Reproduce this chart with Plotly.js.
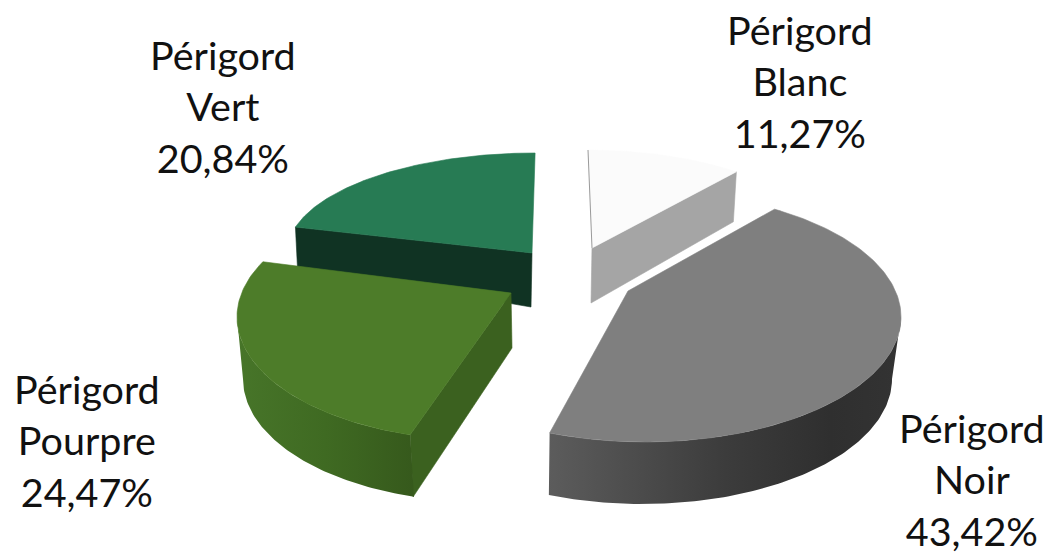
<!DOCTYPE html>
<html>
<head>
<meta charset="utf-8">
<script src="https://cdn.plot.ly/plotly-3.0.1.min.js"></script>
<style>html,body{margin:0;padding:0;background:#fff}#chart{width:1049px;height:554px}</style>
</head>
<body>
<div id="chart"></div>
<script>
// Data
var regions = ["Périgord", "Périgord", "Périgord", "Périgord"];
var subNames = ["Blanc", "Noir", "Pourpre", "Vert"];
var shares = [11.27, 43.42, 24.47, 20.84];
var shareLabels = ["11,27%", "43,42%", "24,47%", "20,84%"];

// Drawing view of each exploded slice (pixel-like axis units)
var view = [
  {ex:588, ey:248, rx:236, ry:98,  start:0,     stretch:0.96,  ax:592, ay:248,
   top:"#fbfbfb", label:[800,81],  cut:"#a5a5a5", cutDepth:[[-3,50],[-1,55]], outer:null},
  {ex:645, ey:317, rx:256, ry:125, start:30.4,  stretch:1.097, ax:628, ay:291,
   top:"#7f7f7f", label:[972,479], cut:null,
   outer:{from:90, dx:-3, dy:62, rx:250, grad:[[0,"#5c5c5c"],[0.5,"#3c3c3c"],[0.8,"#2f2f2f"],[1,"#333333"]]}},
  {ex:480, ey:317, rx:243, ry:123, start:196.7, stretch:1.135, ax:511, ay:293,
   top:"#4d7c29", label:[87,440],  cut:"#3b611f", cutDepth:[[3,62],[1,55]],
   outer:{to:270, dx:3, dy:62, rx:240, grad:[[0,"#477529"],[0.5,"#3f6a22"],[1,"#36591c"]]}},
  {ex:535, ey:253, rx:248, ry:100, start:285,   stretch:1.0,   ax:532, ay:253,
   top:"#277b54", label:[223,106], cut:"#103323", cutDepth:[[2,40],[-1,54]], outer:null}
];
var drawOrder = [3, 0, 1, 2];
// Which end of the arc the flat wall starts from, per slice (0 = first, 1 = last)
var cutEnd = [1, 0, 0, 0];

function rad(d){ return d * Math.PI / 180; }
function arc(ex, ey, rx, ry, a0, a1){
  var xs = [], ys = [], n = Math.max(2, Math.ceil(Math.abs(a1 - a0)));
  for (var i = 0; i <= n; i++){
    var t = a0 + (a1 - a0) * i / n;
    xs.push(ex + rx * Math.sin(rad(t)));
    ys.push(ey - ry * Math.cos(rad(t)));
  }
  return {x:xs, y:ys};
}

var total = shares.reduce(function(a,b){return a+b;}, 0);
var traces = [];
function poly(x, y, color, name, grad){
  var t = {type:"scatter", mode:"lines", x:x, y:y, fill:"toself", hoverinfo:"skip", name:name, showlegend:false};
  if (grad) { t.fillgradient = {type:"horizontal", colorscale:grad}; t.line = {width:0}; }
  else { t.fillcolor = color; t.line = {width:0.6, color:color}; }
  traces.push(t);
}

drawOrder.forEach(function(i){
  var v = view[i], name = regions[i] + " " + subNames[i];
  var span = shares[i] / total * 360 * v.stretch;
  var a0 = v.start, a1 = v.start + span;
  var top = arc(v.ex, v.ey, v.rx, v.ry, a0, a1);
  var first = [top.x[0], top.y[0]], last = [top.x[top.x.length-1], top.y[top.y.length-1]];

  // flat cut wall along the edge facing the viewer
  if (v.cut){
    var corner = cutEnd[i] ? last : first;
    var d = v.cutDepth;
    poly([corner[0], v.ax, v.ax + d[1][0], corner[0] + d[0][0], corner[0]],
         [corner[1], v.ay, v.ay + d[1][1], corner[1] + d[0][1], corner[1]], v.cut, name + " paroi");
  }
  // curved outer wall
  if (v.outer){
    var o = v.outer;
    var b0 = Math.max(a0, o.from === undefined ? a0 : o.from);
    var b1 = Math.min(a1, o.to === undefined ? a1 : o.to);
    var upper = arc(v.ex, v.ey, v.rx, v.ry, b0, b1);
    var lower = arc(v.ex + o.dx, v.ey + o.dy, o.rx, v.ry, b1, b0);
    poly(upper.x.concat(lower.x, [upper.x[0]]), upper.y.concat(lower.y, [upper.y[0]]), null, name + " bord", o.grad);
  }
  // top face
  poly([v.ax].concat(top.x, [v.ax]), [v.ay].concat(top.y, [v.ay]), v.top, name);
  if (i === 0){
    traces.push({type:"scatter", mode:"lines", x:[first[0], v.ax], y:[first[1], v.ay],
      line:{width:1, color:"#9a9a9a"}, hoverinfo:"skip", showlegend:false});
  }
});

var annotations = view.map(function(v, i){
  return {x:v.label[0], y:v.label[1], xref:"x", yref:"y", xanchor:"center", yanchor:"middle",
    showarrow:false, align:"center",
    text: regions[i] + "<br>" + subNames[i] + "<br>" + shareLabels[i],
    font:{family:"Lato, Carlito, sans-serif", size:39.5, color:"#111111"}};
});

var layout = {
  width:1049, height:554, margin:{l:0,r:0,t:0,b:0},
  paper_bgcolor:"#ffffff", plot_bgcolor:"#ffffff", showlegend:false,
  xaxis:{range:[0,1049], visible:false, fixedrange:true},
  yaxis:{range:[554,0], visible:false, fixedrange:true},
  annotations:annotations
};
Plotly.newPlot("chart", traces, layout, {displayModeBar:false, staticPlot:true});
</script>
</body>
</html>
